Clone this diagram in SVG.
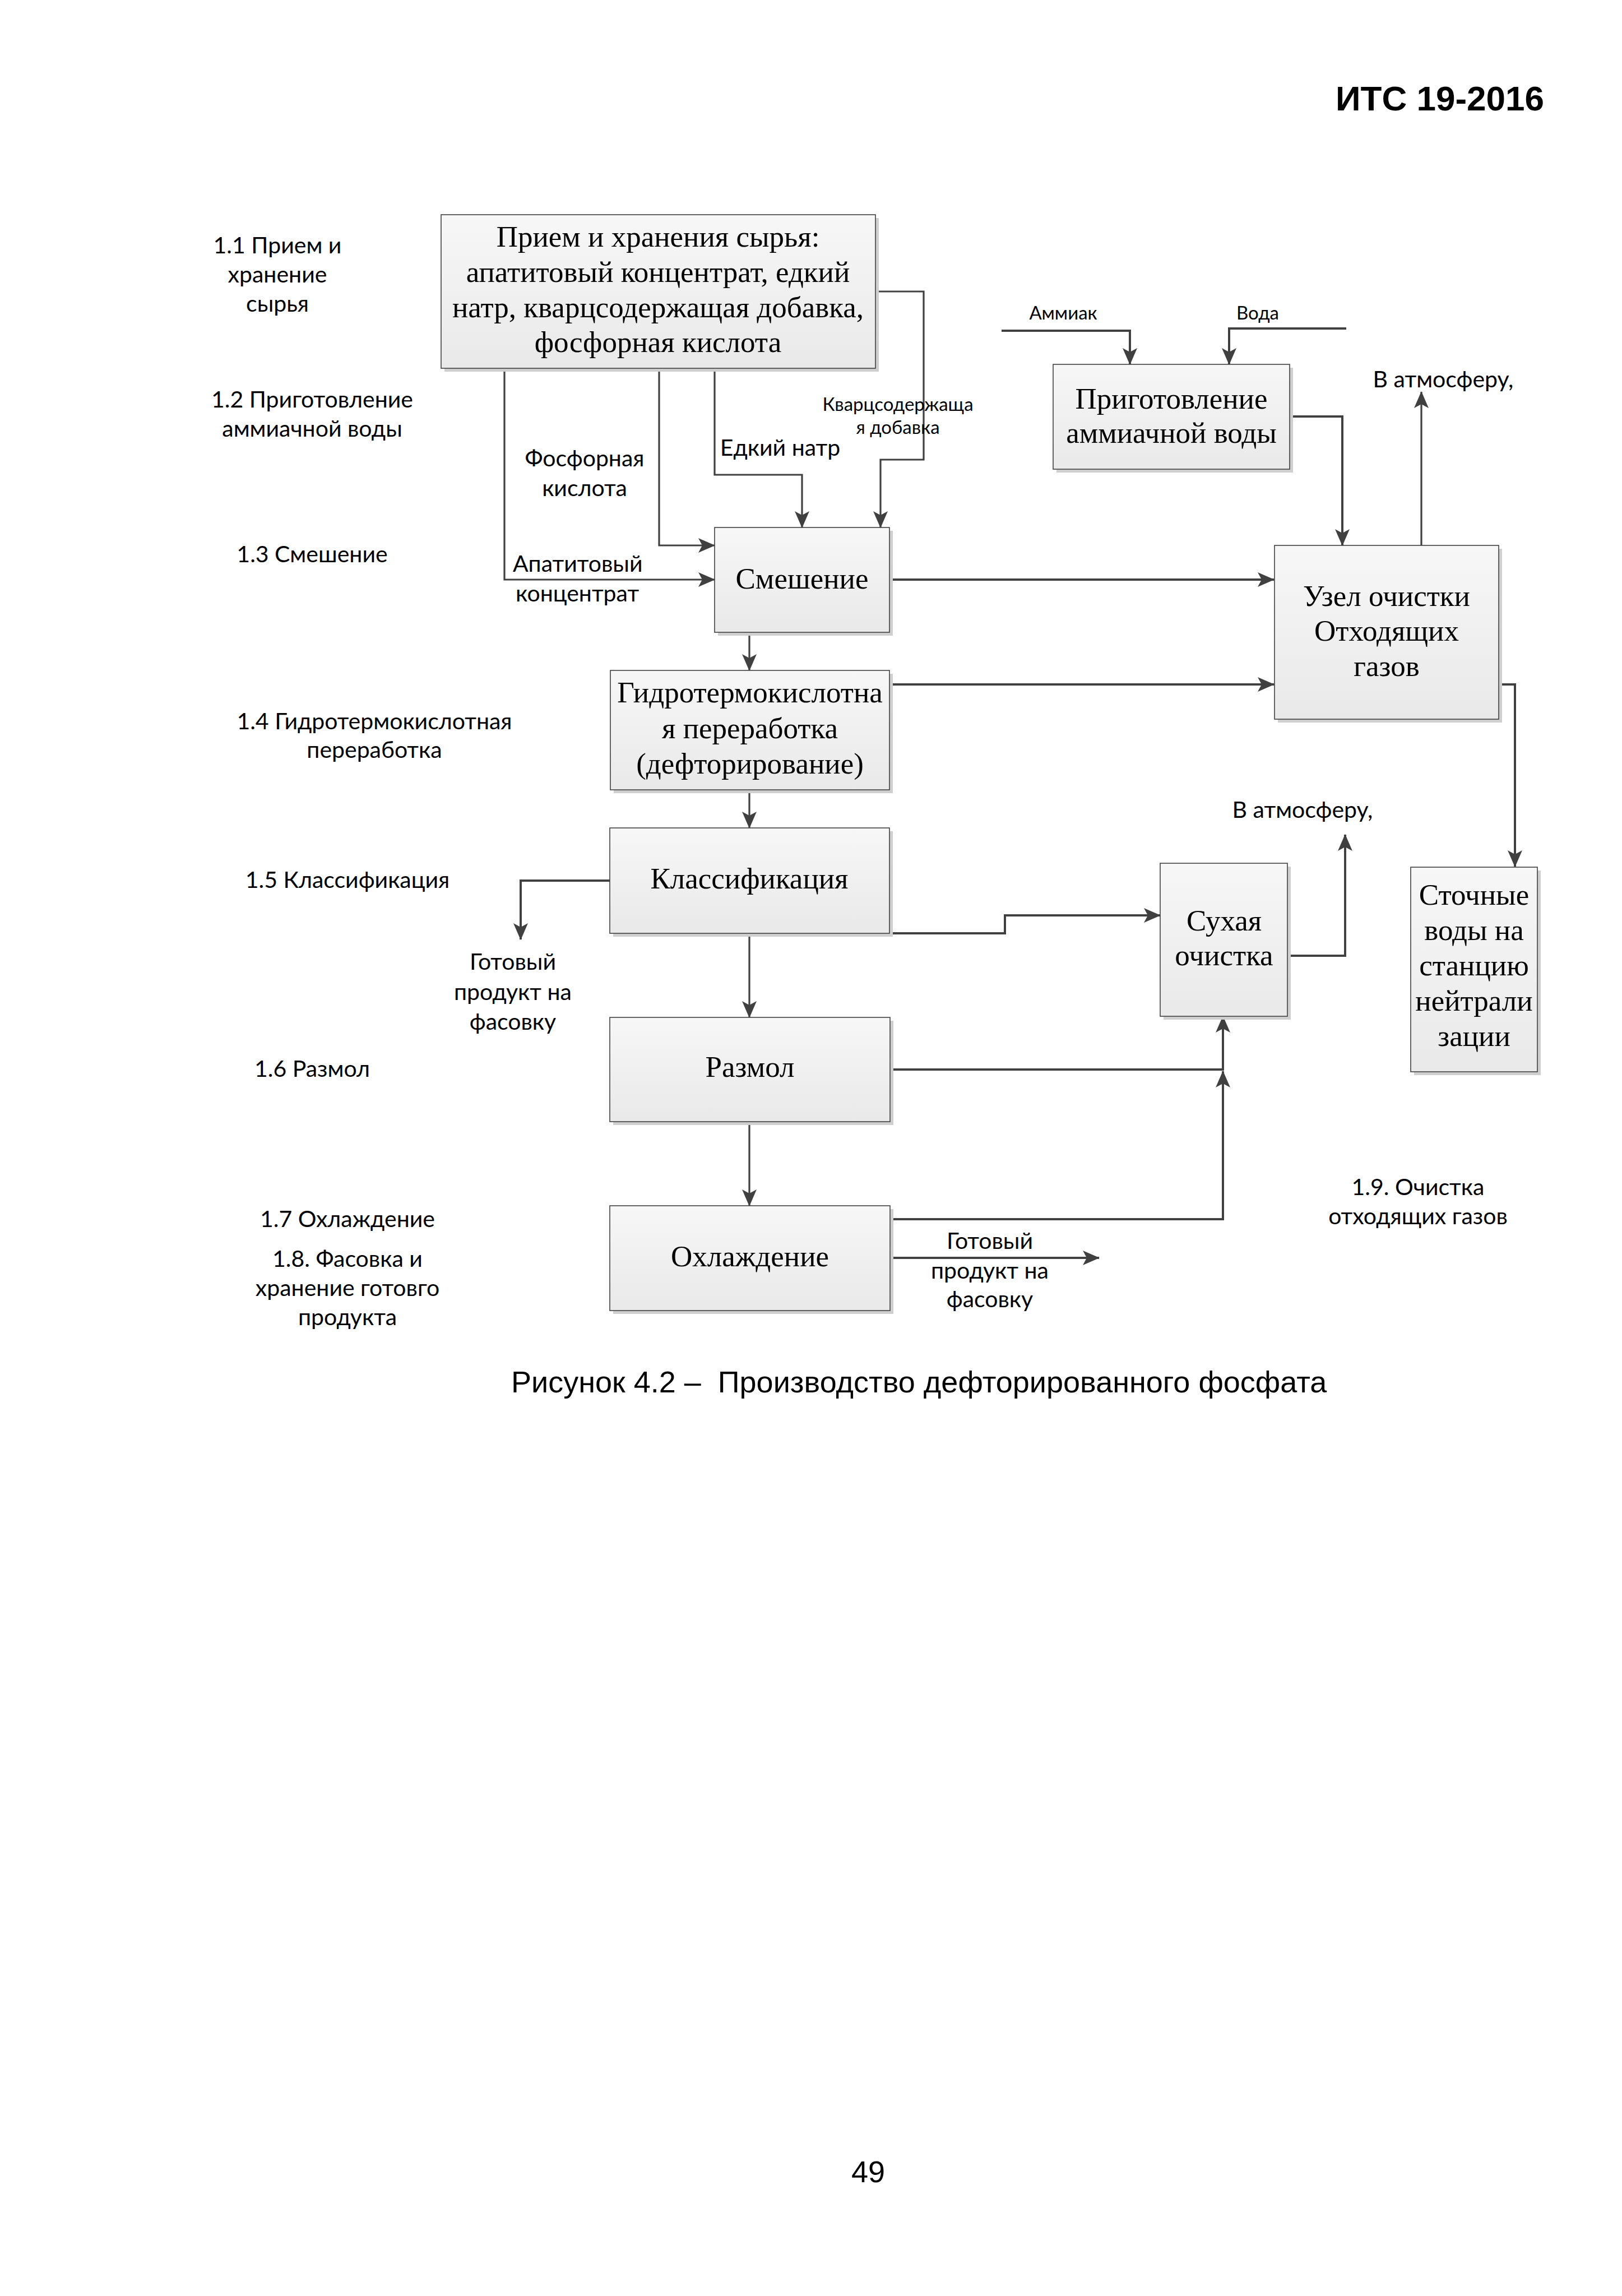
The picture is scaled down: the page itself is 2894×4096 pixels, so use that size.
<svg xmlns="http://www.w3.org/2000/svg" width="2894" height="4096" viewBox="0 0 2894 4096">
<defs>
<linearGradient id="boxfill" x1="0" y1="0" x2="0" y2="1">
<stop offset="0" stop-color="#f7f7f7"/>
<stop offset="1" stop-color="#e9e9e9"/>
</linearGradient>
<marker id="ah" viewBox="0 0 30 30" refX="29" refY="15" markerWidth="30" markerHeight="30" markerUnits="userSpaceOnUse" orient="auto">
<path d="M0,2 L30,15 L0,28 L7,15 Z" fill="#404040"/>
</marker>
<style>
.shadow{fill:#cfcfcf;}
.box{fill:url(#boxfill);stroke:#404040;stroke-width:1.6;}
.nt{font-family:"Liberation Serif","Times New Roman",serif;font-size:53px;fill:#000;text-anchor:middle;}
.lb{font-family:Lato,"Liberation Sans",sans-serif;font-size:41px;fill:#000;text-anchor:middle;}
.lbl{font-family:Lato,"Liberation Sans",sans-serif;font-size:41px;fill:#000;text-anchor:start;}
.lbs{font-family:Lato,"Liberation Sans",sans-serif;font-size:33px;fill:#000;text-anchor:middle;}
.ln{fill:none;stroke:#404040;stroke-width:4;}
.lt{fill:none;stroke:#404040;stroke-width:3.2;}
.arr{marker-end:url(#ah);}
.hd{font-family:"Liberation Sans",Arial,sans-serif;fill:#000;}
</style>
</defs>
<rect x="0" y="0" width="2894" height="4096" fill="#fff"/>

<text class="hd" x="2755" y="197" font-size="62" font-weight="bold" text-anchor="end">ИТС 19-2016</text>

<g id="connectors">
<path class="lt arr" d="M900,657 V1034 H1275"/>
<path class="lt arr" d="M1176,657 V973 H1275"/>
<path class="lt arr" d="M1275,657 V847 H1431 V941"/>
<path class="lt arr" d="M1562,520 H1648 V820 H1571 V941"/>
<path class="ln arr" d="M1787,590 H2016 V650"/>
<path class="ln arr" d="M2402,586 H2193 V650"/>
<path class="ln arr" d="M2301,743 H2395 V973"/>
<path class="lt arr" d="M2536,973 V699"/>
<path class="ln arr" d="M1587,1034 H2273"/>
<path class="ln arr" d="M1587,1221 H2273"/>
<path class="ln arr" d="M2674,1221 H2703 V1546"/>
<path class="lt arr" d="M1337,1128 V1196"/>
<path class="lt arr" d="M1337,1409 V1477"/>
<path class="ln arr" d="M1088,1571 H929 V1676"/>
<path class="ln arr" d="M1587,1665 H1793 V1633 H2070"/>
<path class="ln arr" d="M2297,1705 H2400 V1489"/>
<path class="lt arr" d="M1337,1665 V1815"/>
<path class="ln arr" d="M1588,1908 H2182 V1813"/>
<path class="lt arr" d="M1337,2001 V2151"/>
<path class="ln arr" d="M1588,2175 H2182 V1911"/>
<path class="ln arr" d="M1588,2244 H1961"/>
</g>

<g id="node-raw">
<rect class="shadow" x="793" y="389" width="775" height="274"/>
<rect class="box" x="787" y="383" width="775" height="274"/>
<text class="nt" x="1174" y="440">Прием и хранения сырья:</text>
<text class="nt" x="1174" y="503">апатитовый концентрат, едкий</text>
<text class="nt" x="1174" y="566">натр, кварцсодержащая добавка,</text>
<text class="nt" x="1174" y="628">фосфорная кислота</text>
</g>

<g id="node-ammonia">
<rect class="shadow" x="1885" y="656" width="422" height="187"/>
<rect class="box" x="1879" y="650" width="422" height="187"/>
<text class="nt" x="2090" y="729">Приготовление</text>
<text class="nt" x="2090" y="790">аммиачной воды</text>
</g>

<g id="node-mixing">
<rect class="shadow" x="1281" y="947" width="312" height="187"/>
<rect class="box" x="1275" y="941" width="312" height="187"/>
<text class="nt" x="1431" y="1050">Смешение</text>
</g>

<g id="node-gascleaning">
<rect class="shadow" x="2280" y="979" width="400" height="310"/>
<rect class="box" x="2274" y="973" width="400" height="310"/>
<text class="nt" x="2474" y="1081">Узел очистки</text>
<text class="nt" x="2474" y="1143">Отходящих</text>
<text class="nt" x="2474" y="1206">газов</text>
</g>

<g id="node-hydro">
<rect class="shadow" x="1095" y="1202" width="498" height="213"/>
<rect class="box" x="1089" y="1196" width="498" height="213"/>
<text class="nt" x="1338" y="1253">Гидротермокислотна</text>
<text class="nt" x="1338" y="1317">я переработка</text>
<text class="nt" x="1338" y="1380">(дефторирование)</text>
</g>

<g id="node-classification">
<rect class="shadow" x="1094" y="1483" width="499" height="188"/>
<rect class="box" x="1088" y="1477" width="499" height="188"/>
<text class="nt" x="1337" y="1585">Классификация</text>
</g>

<g id="node-dry">
<rect class="shadow" x="2076" y="1546" width="227" height="273"/>
<rect class="box" x="2070" y="1540" width="227" height="273"/>
<text class="nt" x="2184" y="1660">Сухая</text>
<text class="nt" x="2184" y="1722">очистка</text>
</g>

<g id="node-wastewater">
<rect class="shadow" x="2523" y="1553" width="226" height="365"/>
<rect class="box" x="2517" y="1547" width="226" height="365"/>
<text class="nt" x="2630" y="1614">Сточные</text>
<text class="nt" x="2630" y="1677">воды на</text>
<text class="nt" x="2630" y="1740">станцию</text>
<text class="nt" x="2630" y="1803">нейтрали</text>
<text class="nt" x="2630" y="1866">зации</text>
</g>

<g id="node-milling">
<rect class="shadow" x="1094" y="1821" width="500" height="186"/>
<rect class="box" x="1088" y="1815" width="500" height="186"/>
<text class="nt" x="1338" y="1921">Размол</text>
</g>

<g id="node-cooling">
<rect class="shadow" x="1094" y="2157" width="500" height="187"/>
<rect class="box" x="1088" y="2151" width="500" height="187"/>
<text class="nt" x="1338" y="2259">Охлаждение</text>
</g>

<g id="connector-labels">
<text class="lb" x="1043" y="832">Фосфорная</text>
<text class="lb" x="1043" y="885">кислота</text>
<text class="lb" x="1392" y="813">Едкий натр</text>
<text class="lbs" x="1602" y="733">Кварцсодержаща</text>
<text class="lbs" x="1602" y="774">я добавка</text>
<text class="lbl" x="915" y="1020">Апатитовый</text>
<text class="lbl" x="920" y="1073">концентрат</text>
<text class="lbs" x="1897" y="570">Аммиак</text>
<text class="lbs" x="2244" y="570">Вода</text>
<text class="lb" x="2575" y="691">В атмосферу,</text>
<text class="lb" x="2324" y="1459">В атмосферу,</text>
<text class="lb" x="915" y="1730">Готовый</text>
<text class="lb" x="915" y="1784">продукт на</text>
<text class="lb" x="915" y="1837">фасовку</text>
<text class="lb" x="1766" y="2228">Готовый</text>
<text class="lb" x="1766" y="2281">продукт на</text>
<text class="lb" x="1766" y="2332">фасовку</text>
</g>

<g id="stage-labels">
<text class="lb" x="495" y="452">1.1 Прием и</text>
<text class="lb" x="495" y="504">хранение</text>
<text class="lb" x="495" y="556">сырья</text>
<text class="lb" x="557" y="727">1.2 Приготовление</text>
<text class="lb" x="557" y="779">аммиачной воды</text>
<text class="lb" x="557" y="1003">1.3 Смешение</text>
<text class="lb" x="668" y="1301">1.4 Гидротермокислотная</text>
<text class="lb" x="668" y="1352">переработка</text>
<text class="lb" x="620" y="1584">1.5 Классификация</text>
<text class="lb" x="557" y="1921">1.6 Размол</text>
<text class="lb" x="620" y="2189">1.7 Охлаждение</text>
<text class="lb" x="620" y="2260">1.8. Фасовка и</text>
<text class="lb" x="620" y="2312">хранение готовго</text>
<text class="lb" x="620" y="2364">продукта</text>
<text class="lb" x="2530" y="2132">1.9. Очистка</text>
<text class="lb" x="2530" y="2184">отходящих газов</text>
</g>

<text class="hd" x="912" y="2484" font-size="54">Рисунок 4.2 –&#160; Производство дефторированного фосфата</text>
<text class="hd" x="1549" y="3893" font-size="54" text-anchor="middle">49</text>
</svg>
